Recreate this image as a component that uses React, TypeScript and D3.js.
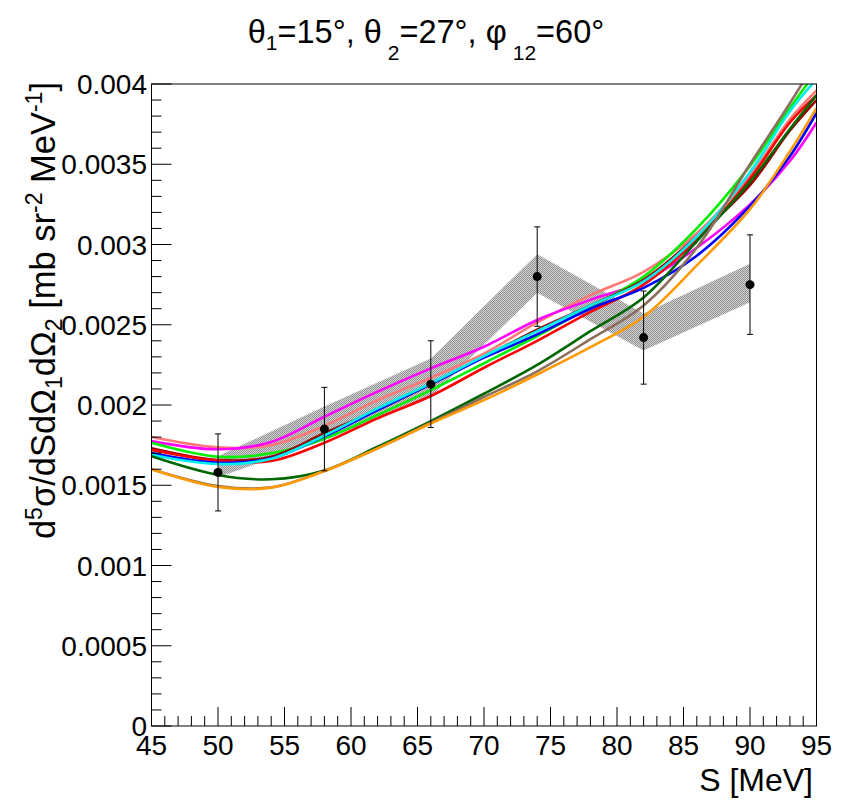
import React from 'react';
import * as d3 from 'd3';

// measured points
const ptX = [50, 58, 66, 74, 82, 90];
const ptY = [0.00158, 0.00185, 0.00213, 0.0028, 0.00242, 0.00275];
const ptErr = [0.00024, 0.00026, 0.00027, 0.00031, 0.00029, 0.00031];

// grey band
const bandLow = [0.00155, 0.00178, 0.00205, 0.0027, 0.00234, 0.00264];
const bandHigh = [0.00168, 0.00199, 0.00229, 0.00294, 0.00257, 0.00288];

// model curves, sampled at curveX
const curveX = [45, 50, 54, 58, 62, 66, 70, 74, 78, 82, 86, 90, 93, 95];
const salmon = [0.0018, 0.001736, 0.00175, 0.00187, 0.00203, 0.00217, 0.00232, 0.002515, 0.002685, 0.00283, 0.00307, 0.00343, 0.00378, 0.00396];
const magenta = [0.001775, 0.001724, 0.00177, 0.001927, 0.002083, 0.002228, 0.002363, 0.00253, 0.002655, 0.00277, 0.00298, 0.00325, 0.00352, 0.00376];
const green = [0.001765, 0.001678, 0.001699, 0.00179, 0.001938, 0.002093, 0.00226, 0.00243, 0.00261, 0.0028, 0.0031, 0.00349, 0.00385, 0.00408];
const darkRed = [0.00173, 0.001657, 0.001678, 0.001824, 0.00197, 0.00213, 0.0023, 0.00247, 0.00262, 0.00278, 0.00305, 0.00337, 0.00371, 0.0039];
const red = [0.00172, 0.001653, 0.001651, 0.001765, 0.001917, 0.002056, 0.002232, 0.0024, 0.00258, 0.00275, 0.00303, 0.00341, 0.00376, 0.00393];
const blue = [0.0017, 0.00164, 0.001668, 0.001805, 0.001969, 0.00213, 0.002295, 0.00244, 0.0026, 0.00273, 0.00293, 0.00324, 0.00355, 0.00382];
const cyan = [0.00169, 0.001632, 0.001665, 0.00181, 0.001979, 0.002135, 0.002305, 0.00246, 0.00262, 0.00277, 0.00305, 0.00345, 0.00383, 0.00403];
const darkGreen = [0.00168, 0.001564, 0.001537, 0.001592, 0.00174, 0.0019, 0.00207, 0.00225, 0.00246, 0.00267, 0.00302, 0.00339, 0.00372, 0.00393];
const brown = [0.0016, 0.001495, 0.001487, 0.00159, 0.00173, 0.00189, 0.00205, 0.00221, 0.00241, 0.00262, 0.00298, 0.0035, 0.00388, 0.00415];
const orange = [0.0016, 0.00149, 0.001485, 0.001588, 0.00173, 0.001885, 0.00203, 0.00219, 0.00236, 0.00255, 0.00287, 0.00322, 0.00358, 0.00385];

const curves = [
    {values: salmon, color: '#ff7777'},
    {values: magenta, color: '#ff00ff'},
    {values: green, color: '#00ee00'},
    {values: darkRed, color: '#990000'},
    {values: red, color: '#ff0000'},
    {values: blue, color: '#0000ff'},
    {values: cyan, color: '#00eeee'},
    {values: darkGreen, color: '#006600'},
    {values: brown, color: '#8c6e5d'},
    {values: orange, color: '#ff9900'},
];

const xMajor = [45, 50, 55, 60, 65, 70, 75, 80, 85, 90, 95];
const yMajor = [0, 0.0005, 0.001, 0.0015, 0.002, 0.0025, 0.003, 0.0035, 0.004];
const yLabels = ['0', '0.0005', '0.001', '0.0015', '0.002', '0.0025', '0.003', '0.0035', '0.004'];

const font = '"Liberation Sans", Arial, Helvetica, sans-serif';

export default function App() {
    const left = 151.5, right = 816.5, top = 84, bottom = 726;
    const x = d3.scaleLinear().domain([45, 95]).range([left, right]);
    const y = d3.scaleLinear().domain([0, 0.004]).range([bottom, top]);

    const line = d3.line<number>()
        .x((d, i) => x(curveX[i]))
        .y(d => y(d))
        .curve(d3.curveCatmullRom.alpha(0.5));

    const upper = ptX.map((v, i) => [x(v), y(bandHigh[i])]);
    const lower = ptX.map((v, i) => [x(v), y(bandLow[i])]).reverse();
    const bandPath = 'M' + upper.concat(lower).map(p => p.join(',')).join('L') + 'Z';

    const xMinor = d3.range(45, 95.01, 1);
    const yMinor = d3.range(0, 0.00401, 0.0001);

    return (
        <svg width={844} height={801} style={{position: 'absolute', left: 0, top: 0, background: '#fff'}}
            fontFamily={font}>
            <defs>
                <pattern id="hatch" width={2} height={2} patternUnits="userSpaceOnUse">
                    <rect width={2} height={2} fill="#d4d4d4"/>
                    <rect width={1} height={1} fill="#909090"/>
                    <rect x={1} y={1} width={1} height={1} fill="#909090"/>
                </pattern>
                <clipPath id="frameClip">
                    <rect x={left} y={top} width={right - left} height={bottom - top}/>
                </clipPath>
            </defs>
            <rect width={844} height={801} fill="#fff"/>

            {/* title */}
            <text x={426} y={43} textAnchor="middle" fontSize={32.5}>
                θ<tspan dy={7} fontSize={21}>1</tspan>
                <tspan dy={-7}>=15°, θ</tspan>
                <tspan dy={17} dx={6} fontSize={21}>2</tspan>
                <tspan dy={-17}>=27°, φ</tspan>
                <tspan dy={17} dx={6} fontSize={21}>12</tspan>
                <tspan dy={-17}>=60°</tspan>
            </text>

            <g clipPath="url(#frameClip)">
                <path d={bandPath} fill="url(#hatch)" stroke="none"/>
                {curves.map((c, i) => (
                    <path key={i} d={line(c.values) || ''} fill="none" stroke={c.color} strokeWidth={2.6}/>
                ))}
            </g>

            {/* data points */}
            {ptX.map((v, i) => (
                <g key={i}>
                    <line x1={x(v)} x2={x(v)} y1={y(ptY[i] - ptErr[i])} y2={y(ptY[i] + ptErr[i])} stroke="#000" strokeWidth={1}/>
                    <line x1={x(v) - 3} x2={x(v) + 3} y1={y(ptY[i] - ptErr[i])} y2={y(ptY[i] - ptErr[i])} stroke="#000"/>
                    <line x1={x(v) - 3} x2={x(v) + 3} y1={y(ptY[i] + ptErr[i])} y2={y(ptY[i] + ptErr[i])} stroke="#000"/>
                    <circle cx={x(v)} cy={y(ptY[i])} r={4.5} fill="#000"/>
                </g>
            ))}

            {/* frame */}
            <rect x={left} y={top} width={right - left} height={bottom - top} fill="none" stroke="#000" strokeWidth={1}/>

            {/* x axis ticks */}
            {xMinor.map(v => (
                <line key={'xm' + v} x1={x(v)} x2={x(v)} y1={bottom} y2={bottom - (v % 5 === 0 ? 19 : 10)} stroke="#000"/>
            ))}
            {xMajor.map(v => (
                <text key={'xl' + v} x={x(v)} y={755} textAnchor="middle" fontSize={28}>{v}</text>
            ))}

            {/* y axis ticks */}
            {yMinor.map((v, i) => (
                <line key={'ym' + i} x1={left} x2={left + (i % 5 === 0 ? 20 : 10)} y1={y(v)} y2={y(v)} stroke="#000"/>
            ))}
            {yMajor.map((v, i) => (
                <text key={'yl' + i} x={147} y={y(v) + 10} textAnchor="end" fontSize={28}>{yLabels[i]}</text>
            ))}

            {/* axis titles */}
            <text x={813} y={791} textAnchor="end" fontSize={32}>S [MeV]</text>
            <text transform="translate(55, 82) rotate(-90)" textAnchor="end" fontSize={34.5}>
                d<tspan dy={-13} fontSize={23}>5</tspan>
                <tspan dy={13}>σ/dSdΩ</tspan>
                <tspan dy={7} fontSize={23}>1</tspan>
                <tspan dy={-7}>dΩ</tspan>
                <tspan dy={7} fontSize={23}>2</tspan>
                <tspan dy={-7}> [mb sr</tspan>
                <tspan dy={-13} fontSize={23}>-2</tspan>
                <tspan dy={13}> MeV</tspan>
                <tspan dy={-13} fontSize={23}>-1</tspan>
                <tspan dy={13}>]</tspan>
            </text>
        </svg>
    );
}
